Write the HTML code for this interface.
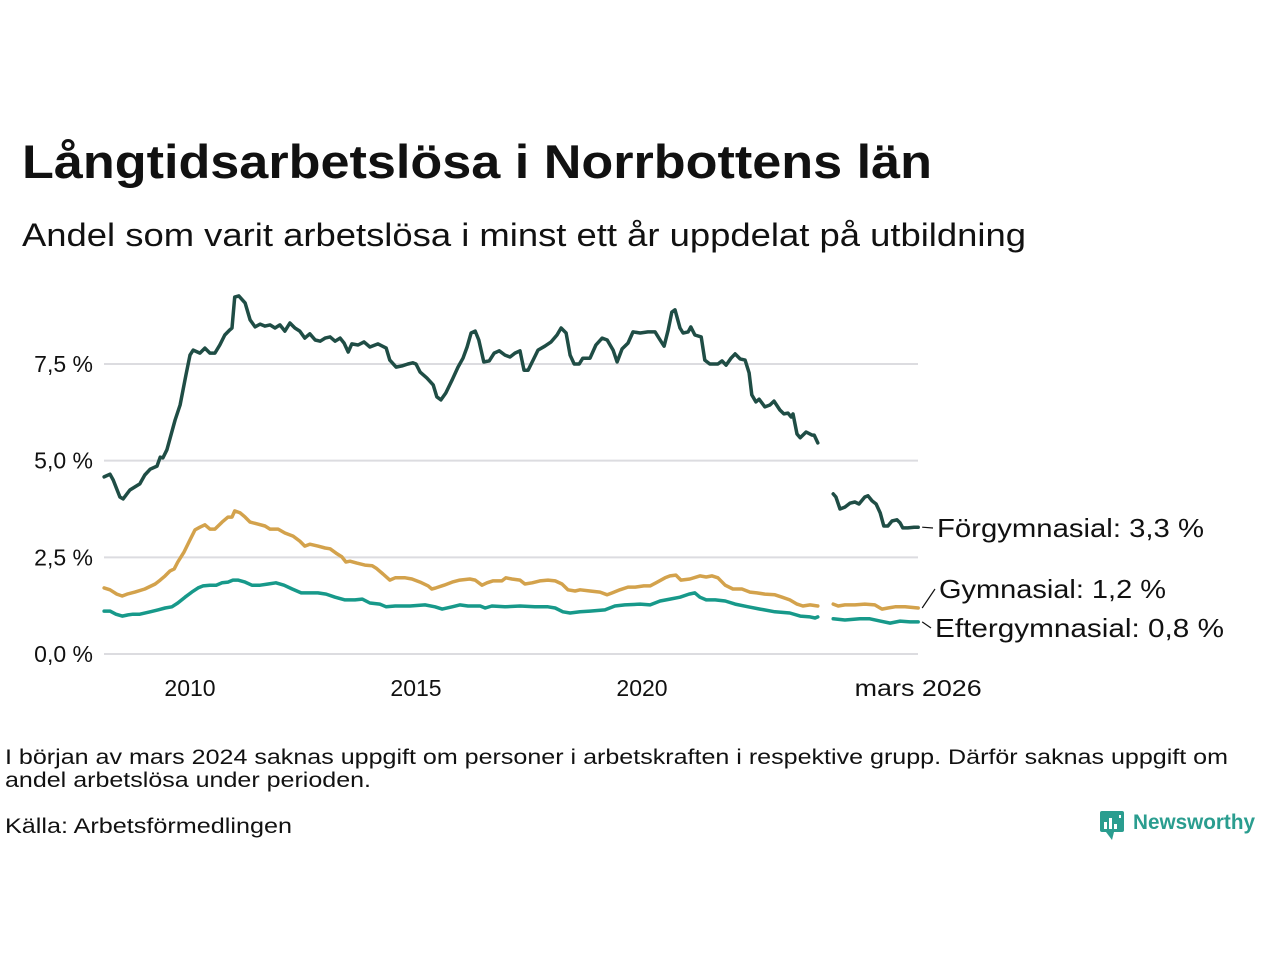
<!DOCTYPE html>
<html><head><meta charset="utf-8"><style>
html,body{margin:0;padding:0;background:#fff;}
svg{display:block;font-family:"Liberation Sans",sans-serif;}
</style></head><body>
<svg id="chart" width="1280" height="960" viewBox="0 0 1280 960">
<text x="22" y="178" font-size="47" font-weight="bold" fill="#111" textLength="910" lengthAdjust="spacingAndGlyphs">Långtidsarbetslösa i Norrbottens län</text>
<text x="22" y="246" font-size="32" fill="#111" textLength="1004" lengthAdjust="spacingAndGlyphs">Andel som varit arbetslösa i minst ett år uppdelat på utbildning</text>
<g id="grid"></g>
<g id="lines"></g>
<g id="labels"></g>
<text x="5" y="764" font-size="21" fill="#111" textLength="1223" lengthAdjust="spacingAndGlyphs">I början av mars 2024 saknas uppgift om personer i arbetskraften i respektive grupp. Därför saknas uppgift om</text>
<text x="5" y="787" font-size="21" fill="#111" textLength="366" lengthAdjust="spacingAndGlyphs">andel arbetslösa under perioden.</text>
<text x="5" y="833" font-size="21" fill="#111" textLength="287" lengthAdjust="spacingAndGlyphs">Källa: Arbetsförmedlingen</text>
<g>
<rect x="1100" y="811" width="24" height="21" rx="2" fill="#2a9d8f"/>
<path d="M1106 832 L1112 840 L1114 832 Z" fill="#2a9d8f"/>
<rect x="1104" y="822" width="3" height="7" fill="#fff"/><rect x="1109" y="818" width="3" height="11" fill="#fff"/><rect x="1114" y="824" width="3" height="5" fill="#fff"/><rect x="1119" y="815" width="2" height="3" fill="#fff"/>
<text x="1133" y="829" font-size="21" font-weight="bold" fill="#2a9d8f" textLength="122" lengthAdjust="spacingAndGlyphs">Newsworthy</text>
</g>
</svg>
<script>
const yTicks=[0,2.5,5,7.5];
const yTickLabels=["0,0 %","2,5 %","5,0 %","7,5 %"];
const xTicks=[2010,2015,2020];
const xTickLabels=["2010","2015","2020"];
const forgymYears=[2008.10,2008.23,2008.30,2008.45,2008.52,2008.67,2008.89,2009.00,2009.12,2009.27,2009.34,2009.40,2009.49,2009.67,2009.78,2009.91,2010.00,2010.07,2010.22,2010.33,2010.44,2010.55,2010.66,2010.77,2010.88,2010.93,2010.99,2011.08,2011.22,2011.33,2011.44,2011.55,2011.66,2011.77,2011.88,2011.99,2012.10,2012.21,2012.32,2012.43,2012.54,2012.65,2012.77,2012.88,2012.99,2013.10,2013.21,2013.32,2013.41,2013.50,2013.58,2013.72,2013.85,2013.98,2014.16,2014.34,2014.42,2014.56,2014.69,2014.82,2014.93,2015.00,2015.09,2015.24,2015.38,2015.46,2015.55,2015.66,2015.80,2015.93,2016.04,2016.13,2016.22,2016.31,2016.39,2016.50,2016.62,2016.73,2016.84,2016.97,2017.08,2017.19,2017.30,2017.39,2017.48,2017.59,2017.70,2017.85,2017.99,2018.12,2018.21,2018.32,2018.41,2018.50,2018.61,2018.69,2018.85,2018.98,2019.12,2019.23,2019.36,2019.45,2019.56,2019.69,2019.80,2019.96,2020.13,2020.29,2020.40,2020.49,2020.58,2020.66,2020.73,2020.84,2020.91,2021.02,2021.08,2021.17,2021.31,2021.39,2021.50,2021.68,2021.77,2021.86,2021.97,2022.06,2022.17,2022.28,2022.37,2022.43,2022.52,2022.59,2022.72,2022.83,2022.92,2023.05,2023.14,2023.23,2023.30,2023.34,2023.43,2023.50,2023.63,2023.76,2023.81,2023.89,2024.05,2024.23,2024.29,2024.38,2024.49,2024.60,2024.71,2024.80,2024.93,2025.00,2025.09,2025.18,2025.27,2025.35,2025.44,2025.53,2025.64,2025.71,2025.77,2025.88,2026.02,2026.11];
const forgymValues=[4.58,4.65,4.50,4.06,4.01,4.24,4.40,4.63,4.78,4.86,5.09,5.07,5.28,6.05,6.44,7.21,7.73,7.86,7.78,7.91,7.78,7.78,7.99,8.25,8.38,8.43,9.23,9.26,9.08,8.64,8.46,8.53,8.48,8.51,8.43,8.51,8.35,8.56,8.43,8.35,8.17,8.28,8.12,8.09,8.17,8.20,8.09,8.17,8.04,7.81,8.02,7.99,8.07,7.94,8.02,7.91,7.60,7.42,7.45,7.50,7.53,7.50,7.29,7.14,6.96,6.65,6.57,6.75,7.09,7.42,7.65,7.94,8.30,8.35,8.12,7.55,7.58,7.78,7.84,7.73,7.68,7.78,7.84,7.34,7.34,7.60,7.86,7.96,8.07,8.25,8.43,8.30,7.73,7.50,7.50,7.65,7.65,7.99,8.17,8.12,7.86,7.55,7.89,8.04,8.33,8.30,8.33,8.33,8.12,7.96,8.38,8.84,8.90,8.43,8.30,8.33,8.46,8.25,8.20,7.60,7.50,7.50,7.58,7.47,7.65,7.76,7.63,7.60,7.27,6.70,6.52,6.59,6.39,6.44,6.54,6.31,6.21,6.23,6.13,6.21,5.69,5.59,5.74,5.66,5.66,5.46,null,4.14,4.06,3.75,3.80,3.90,3.93,3.88,4.06,4.09,3.96,3.88,3.65,3.31,3.31,3.44,3.47,3.39,3.26,3.26,3.28,3.28];
const gymYears=[2008.10,2008.23,2008.38,2008.50,2008.61,2008.78,2009.00,2009.23,2009.34,2009.45,2009.56,2009.65,2009.73,2009.87,2010.00,2010.11,2010.22,2010.33,2010.44,2010.55,2010.71,2010.84,2010.93,2010.99,2011.11,2011.22,2011.33,2011.50,2011.66,2011.77,2011.95,2012.10,2012.28,2012.43,2012.54,2012.65,2012.83,2012.99,2013.10,2013.23,2013.36,2013.45,2013.54,2013.69,2013.87,2014.03,2014.12,2014.27,2014.42,2014.54,2014.76,2014.91,2015.09,2015.27,2015.35,2015.44,2015.62,2015.80,2015.97,2016.19,2016.31,2016.46,2016.57,2016.70,2016.90,2016.99,2017.12,2017.30,2017.41,2017.57,2017.74,2017.92,2018.08,2018.23,2018.36,2018.52,2018.63,2018.85,2019.07,2019.23,2019.34,2019.51,2019.69,2019.85,2020.04,2020.18,2020.31,2020.51,2020.62,2020.75,2020.86,2021.06,2021.28,2021.42,2021.55,2021.68,2021.84,2022.01,2022.21,2022.39,2022.54,2022.72,2022.94,2023.10,2023.27,2023.43,2023.56,2023.72,2023.89,2024.05,2024.23,2024.34,2024.49,2024.71,2024.93,2025.15,2025.31,2025.44,2025.60,2025.82,2026.11];
const gymValues=[1.71,1.66,1.55,1.50,1.55,1.60,1.68,1.81,1.91,2.02,2.15,2.20,2.38,2.64,2.95,3.21,3.28,3.34,3.23,3.23,3.41,3.54,3.54,3.70,3.65,3.54,3.41,3.36,3.31,3.23,3.23,3.13,3.05,2.92,2.79,2.84,2.79,2.74,2.72,2.61,2.51,2.38,2.40,2.35,2.30,2.28,2.22,2.07,1.91,1.97,1.97,1.94,1.86,1.76,1.68,1.71,1.78,1.86,1.91,1.94,1.91,1.78,1.84,1.89,1.89,1.97,1.94,1.91,1.81,1.84,1.89,1.91,1.89,1.81,1.66,1.63,1.66,1.63,1.60,1.53,1.58,1.66,1.73,1.73,1.76,1.76,1.84,1.97,2.02,2.04,1.91,1.94,2.02,1.99,2.02,1.97,1.78,1.68,1.68,1.60,1.58,1.55,1.53,1.47,1.40,1.29,1.24,1.27,1.24,null,1.29,1.24,1.27,1.27,1.29,1.27,1.16,1.19,1.22,1.22,1.19];
const eftYears=[2008.10,2008.23,2008.36,2008.50,2008.63,2008.74,2008.89,2009.12,2009.29,2009.45,2009.60,2009.73,2009.89,2010.04,2010.18,2010.29,2010.44,2010.58,2010.71,2010.84,2010.95,2011.06,2011.22,2011.37,2011.55,2011.73,2011.90,2012.08,2012.26,2012.46,2012.61,2012.83,2013.01,2013.21,2013.43,2013.65,2013.81,2013.98,2014.20,2014.34,2014.54,2014.87,2015.20,2015.42,2015.58,2015.80,2015.97,2016.15,2016.42,2016.53,2016.68,2016.97,2017.30,2017.63,2017.92,2018.08,2018.25,2018.41,2018.63,2018.85,2019.18,2019.40,2019.62,2019.96,2020.18,2020.40,2020.62,2020.84,2021.04,2021.17,2021.28,2021.42,2021.62,2021.84,2022.06,2022.35,2022.61,2022.94,2023.27,2023.50,2023.72,2023.83,2023.89,2024.05,2024.23,2024.49,2024.82,2025.04,2025.27,2025.49,2025.71,2025.93,2026.11];
const eftValues=[1.11,1.11,1.03,0.98,1.01,1.03,1.03,1.09,1.14,1.19,1.22,1.32,1.47,1.60,1.71,1.76,1.78,1.78,1.84,1.86,1.91,1.91,1.86,1.78,1.78,1.81,1.84,1.78,1.68,1.58,1.58,1.58,1.55,1.47,1.40,1.40,1.42,1.32,1.29,1.22,1.24,1.24,1.27,1.22,1.16,1.22,1.27,1.24,1.24,1.19,1.24,1.22,1.24,1.22,1.22,1.19,1.09,1.06,1.09,1.11,1.14,1.24,1.27,1.29,1.27,1.37,1.42,1.47,1.55,1.58,1.47,1.40,1.40,1.37,1.29,1.22,1.16,1.09,1.06,0.98,0.96,0.93,0.96,null,0.91,0.88,0.91,0.91,0.85,0.80,0.85,0.83,0.83];
const seriesNames=["Förgymnasial","Gymnasial","Eftergymnasial"];
const seriesLastLabels=["3,3 %","1,2 %","0,8 %"];

const NS="http://www.w3.org/2000/svg";
const xs=y=>190+(y-2010)*45.2;
const ys=v=>654-v*38.67;
function mk(tag,attrs,parent){const e=document.createElementNS(NS,tag);for(const k in attrs)e.setAttribute(k,attrs[k]);parent.appendChild(e);return e;}
const grid=document.getElementById('grid');
yTicks.forEach((t,i)=>{
  const l=mk('line',{x1:104,x2:918,y1:ys(t),y2:ys(t),stroke:'#dcdce0','stroke-width':2},grid);
  
  
  const tx=mk('text',{x:93,y:ys(t)+8,'text-anchor':'end','font-size':23,fill:'#111'},grid);
  tx.textContent=yTickLabels[i];
  
  
});
xTicks.forEach((t,i)=>{
  const tx=mk('text',{x:xs(t),y:696,'text-anchor':'middle','font-size':23,fill:'#111'},grid);
  tx.textContent=xTickLabels[i];
  
  
});
const endX=xs(forgymYears[forgymYears.length-1]);
const lastTick=mk('text',{x:endX,y:696,'text-anchor':'middle','font-size':23,fill:'#111',textLength:127,lengthAdjust:'spacingAndGlyphs'},grid);
lastTick.textContent="mars 2026";



const lines=document.getElementById('lines');
function draw(yrs,vals,color,name){
  let d="",pen=false;
  yrs.forEach((y,i)=>{const v=vals[i];if(v===null){pen=false;return;}d+=(pen?"L":"M")+xs(y).toFixed(1)+" "+ys(v).toFixed(1)+" ";pen=true;});
  const p=mk('path',{d:d,fill:'none',stroke:color,'stroke-width':3.5,'stroke-linejoin':'round','stroke-linecap':'round'},lines);
  
  
}
draw(eftYears,eftValues,'#17998a','line-eftergymnasial');
draw(gymYears,gymValues,'#d3a24c','line-gymnasial');
draw(forgymYears,forgymValues,'#1f4d45','line-forgymnasial');

const labels=document.getElementById('labels');
const lastVals=[forgymValues[forgymValues.length-1],gymValues[gymValues.length-1],eftValues[eftValues.length-1]];
const labelY=[537,598,637];
const labelX=[937,939,935];
const labelW=[267,227,289];
lastVals.forEach((v,i)=>{
  const y0=ys(v);
  const c=mk('line',{x1:endX+4,y1:y0,x2:labelX[i]-4,y2:labelY[i]-9,stroke:'#111','stroke-width':1.2},labels);
  
  
  const t=mk('text',{x:labelX[i],y:labelY[i],'font-size':26,fill:'#111',textLength:labelW[i],lengthAdjust:'spacingAndGlyphs'},labels);
  t.textContent=seriesNames[i]+": "+seriesLastLabels[i];
  
  
});
</script>
</body></html>
